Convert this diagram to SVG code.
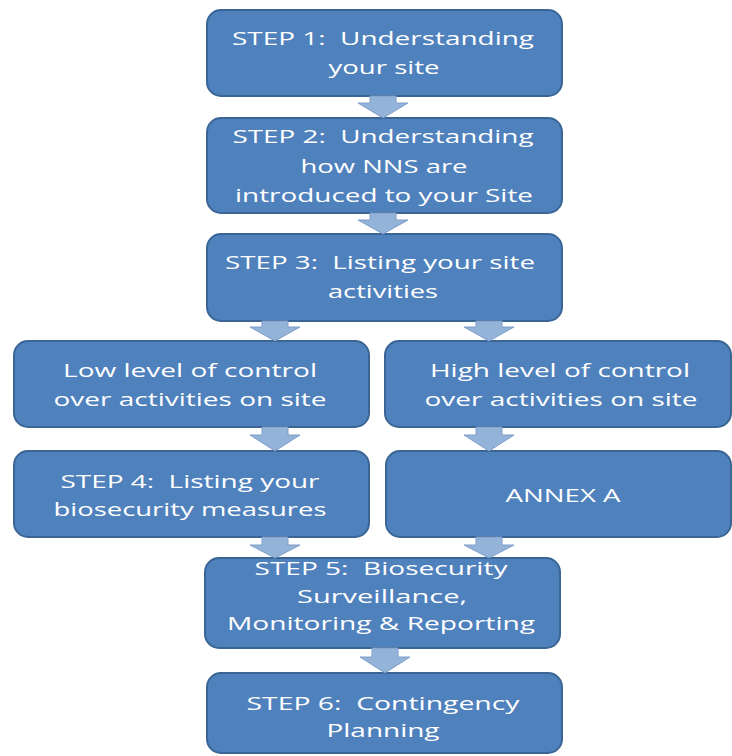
<svg xmlns="http://www.w3.org/2000/svg" width="732" height="756" viewBox="0 0 732 756" xml:space="preserve">
<style>
.box{fill:#4F81BD;stroke:#3A6595;stroke-width:2}
.arr{fill:#94B3D8;stroke:#7C9DC9;stroke-width:1}
text{font-family:"Open Sans","DejaVu Sans",sans-serif;font-size:19px;fill:#FFFFFF;text-anchor:middle;white-space:pre}
</style>
<rect width="732" height="756" fill="#FFFFFF"/>
<g id="step1"><rect class="box" x="207" y="10" width="355" height="86" rx="14"/>
<text x="383" y="45" textLength="302" lengthAdjust="spacingAndGlyphs">STEP 1:  Understanding</text>
<text x="384" y="74" textLength="111" lengthAdjust="spacingAndGlyphs">your site</text></g>
<g id="step2"><rect class="box" x="207" y="118" width="355" height="95" rx="14"/>
<text x="383" y="143" textLength="301" lengthAdjust="spacingAndGlyphs">STEP 2:  Understanding</text>
<text x="384" y="173" textLength="167" lengthAdjust="spacingAndGlyphs">how NNS are</text>
<text x="384" y="202" textLength="298" lengthAdjust="spacingAndGlyphs">introduced to your Site</text></g>
<g id="step3"><rect class="box" x="207" y="234" width="355" height="87" rx="14"/>
<text x="380" y="269" textLength="310" lengthAdjust="spacingAndGlyphs">STEP 3:  Listing your site</text>
<text x="383" y="298" textLength="110" lengthAdjust="spacingAndGlyphs">activities</text></g>
<g id="low"><rect class="box" x="14" y="341" width="355" height="86" rx="14"/>
<text x="190" y="377" textLength="254" lengthAdjust="spacingAndGlyphs">Low level of control</text>
<text x="190" y="406" textLength="273" lengthAdjust="spacingAndGlyphs">over activities on site</text></g>
<g id="high"><rect class="box" x="385" y="341" width="346" height="86" rx="14"/>
<text x="560" y="377" textLength="260" lengthAdjust="spacingAndGlyphs">High level of control</text>
<text x="561" y="406" textLength="273" lengthAdjust="spacingAndGlyphs">over activities on site</text></g>
<g id="step4"><rect class="box" x="14" y="451" width="355" height="86" rx="14"/>
<text x="190" y="488" textLength="259" lengthAdjust="spacingAndGlyphs">STEP 4:  Listing your</text>
<text x="190" y="516" textLength="273" lengthAdjust="spacingAndGlyphs">biosecurity measures</text></g>
<g id="annexA"><rect class="box" x="386" y="451" width="345" height="86" rx="14"/>
<text x="563" y="502" textLength="115" lengthAdjust="spacingAndGlyphs">ANNEX A</text></g>
<g id="step5"><rect class="box" x="205" y="558" width="355" height="90" rx="14"/>
<text x="381" y="575" textLength="253" lengthAdjust="spacingAndGlyphs">STEP 5:  Biosecurity</text>
<text x="382" y="603" textLength="170" lengthAdjust="spacingAndGlyphs">Surveillance,</text>
<text x="381" y="630" textLength="308" lengthAdjust="spacingAndGlyphs">Monitoring &amp; Reporting</text></g>
<g id="step6"><rect class="box" x="207" y="673" width="355" height="80" rx="14"/>
<text x="383" y="710" textLength="273" lengthAdjust="spacingAndGlyphs">STEP 6:  Contingency</text>
<text x="383" y="737" textLength="113" lengthAdjust="spacingAndGlyphs">Planning</text></g>
<g id="connectors">
<path class="arr" d="M370,96 H396 V103 H408 L383,118 L358,103 H370 Z"/>
<path class="arr" d="M370,213 H396 V220 H408 L383,234 L358,220 H370 Z"/>
<path class="arr" d="M262,321 H288 V327 H300 L275,341 L250,327 H262 Z"/>
<path class="arr" d="M476,321 H502 V327 H514 L489,341 L464,327 H476 Z"/>
<path class="arr" d="M262,427 H288 V435 H300 L275,451 L250,435 H262 Z"/>
<path class="arr" d="M476,427 H502 V435 H514 L489,451 L464,435 H476 Z"/>
<path class="arr" d="M262,537 H288 V545 H300 L275,558 L250,545 H262 Z"/>
<path class="arr" d="M476,537 H502 V545 H514 L489,558 L464,545 H476 Z"/>
<path class="arr" d="M372,648 H398 V657 H410 L385,673 L360,657 H372 Z"/>
</g>
</svg>
